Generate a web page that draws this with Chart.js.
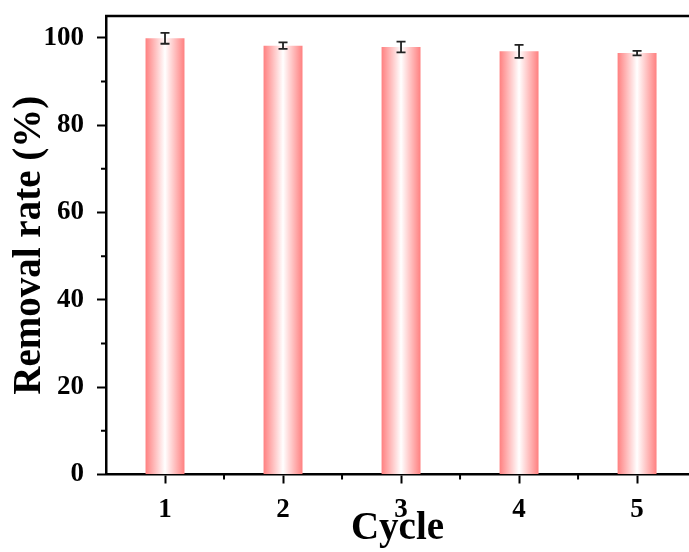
<!DOCTYPE html>
<html>
<head>
<meta charset="utf-8">
<script src="https://cdn.jsdelivr.net/npm/chart.js@4/dist/chart.umd.min.js"></script>
<style>
  html, body { margin: 0; padding: 0; background: #fff; overflow: hidden; }
  #c { display: block; }
</style>
</head>
<body>
<canvas id="c" width="689" height="552"></canvas>
<script>
// Removal rate over repeated cycles, with standard deviation
const cycles = [1, 2, 3, 4, 5];
const removalRate = [99.9, 98.2, 97.9, 96.9, 96.5];
const removalErr = [1.25, 0.75, 1.25, 1.5, 0.5];
const yMajorTicks = [0, 20, 40, 60, 80, 100];
const yMinorTicks = [10, 30, 50, 70, 90];
const xMinorTicks = [1.5, 2.5, 3.5, 4.5];

const SERIF = "'Liberation Serif', 'Times New Roman', serif";
const BAR_PCT = 0.33;
const EDGE = '#ff8080';

// Pink-white-pink horizontal shading across each bar
function barGradient(context) {
  const chart = context.chart;
  const xs = chart.scales.x;
  if (!chart.chartArea || !xs || context.dataIndex === undefined) return EDGE;
  const cx = xs.getPixelForValue(cycles[context.dataIndex]);
  const step = xs.getPixelForValue(cycles[1]) - xs.getPixelForValue(cycles[0]);
  const half = step * BAR_PCT / 2;
  const g = chart.ctx.createLinearGradient(cx - half, 0, cx + half, 0);
  g.addColorStop(0, EDGE);
  g.addColorStop(0.5, '#ffffff');
  g.addColorStop(1, EDGE);
  return g;
}

// Error bars on top of the bars
const errorBars = {
  id: 'errorBars',
  afterDatasetsDraw(chart) {
    const { ctx } = chart;
    const xs = chart.scales.x, ys = chart.scales.y;
    ctx.save();
    ctx.strokeStyle = '#222';
    ctx.lineWidth = 1.8;
    cycles.forEach((c, i) => {
      const x = xs.getPixelForValue(c);
      const v = removalRate[i], e = removalErr[i];
      const yt = ys.getPixelForValue(v + e);
      const yb = ys.getPixelForValue(v - e);
      const cap = 4.5;
      ctx.beginPath();
      ctx.moveTo(x, yt); ctx.lineTo(x, yb);
      ctx.moveTo(x - cap, yt); ctx.lineTo(x + cap, yt);
      ctx.moveTo(x - cap, yb); ctx.lineTo(x + cap, yb);
      ctx.stroke();
    });
    ctx.restore();
  }
};

// Top frame line and minor ticks
const frame = {
  id: 'frame',
  afterDraw(chart) {
    const { ctx, chartArea: a } = chart;
    const xs = chart.scales.x, ys = chart.scales.y;
    ctx.save();
    ctx.strokeStyle = '#000';
    ctx.lineWidth = 2.5;
    ctx.beginPath();
    ctx.moveTo(a.left - 1, a.top); ctx.lineTo(chart.width, a.top);
    ctx.stroke();
    ctx.lineWidth = 2;
    ctx.beginPath();
    yMinorTicks.forEach(v => {
      const y = ys.getPixelForValue(v);
      ctx.moveTo(a.left, y); ctx.lineTo(a.left - 5, y);
    });
    xMinorTicks.forEach(v => {
      const x = xs.getPixelForValue(v);
      ctx.moveTo(x, a.bottom); ctx.lineTo(x, a.bottom + 5);
    });
    ctx.stroke();
    ctx.restore();
  }
};

new Chart(document.getElementById('c'), {
  type: 'bar',
  data: {
    datasets: [{
      data: cycles.map((c, i) => ({ x: c, y: removalRate[i] })),
      backgroundColor: barGradient,
      borderWidth: 0,
      barPercentage: BAR_PCT,
      categoryPercentage: 1
    }]
  },
  options: {
    responsive: false,
    animation: false,
    layout: { padding: { top: 16, right: 0, left: 0, bottom: 0 } },
    plugins: { legend: { display: false }, tooltip: { enabled: false } },
    scales: {
      x: {
        type: 'linear',
        min: 0.5,
        max: 5.44,
        offset: false,
        afterBuildTicks(s) { s.ticks = cycles.map(v => ({ value: v })); },
        grid: { offset: false, drawOnChartArea: false, drawTicks: true, tickLength: 9, tickWidth: 2, tickColor: '#000' },
        border: { display: true, color: '#000', width: 2.5 },
        ticks: { color: '#000', padding: 10, maxRotation: 0, font: { family: SERIF, size: 27, weight: 'bold' } },
        title: { display: true, text: 'Cycle', color: '#000', padding: { top: 0, bottom: 0 },
                 font: { family: SERIF, size: 39, weight: 'bold' } },
        afterFit(s) { s.height = 77.5; s.paddingLeft = 0; s.paddingRight = 0; }
      },
      y: {
        min: 0,
        max: 105,
        afterBuildTicks(s) { s.ticks = yMajorTicks.map(v => ({ value: v })); },
        grid: { drawOnChartArea: false, drawTicks: true, tickLength: 9, tickWidth: 2, tickColor: '#000' },
        border: { display: true, color: '#000', width: 2.5 },
        ticks: { color: '#000', padding: 13, font: { family: SERIF, size: 27, weight: 'bold' } },
        title: { display: true, text: 'Removal rate (%)', color: '#000', padding: { top: 7, bottom: 0 },
                 font: { family: SERIF, size: 39, weight: 'bold' } },
        afterFit(s) { s.width = 106; s.paddingTop = 0; s.paddingBottom = 0; }
      }
    }
  },
  plugins: [errorBars, frame]
});
</script>
</body>
</html>
